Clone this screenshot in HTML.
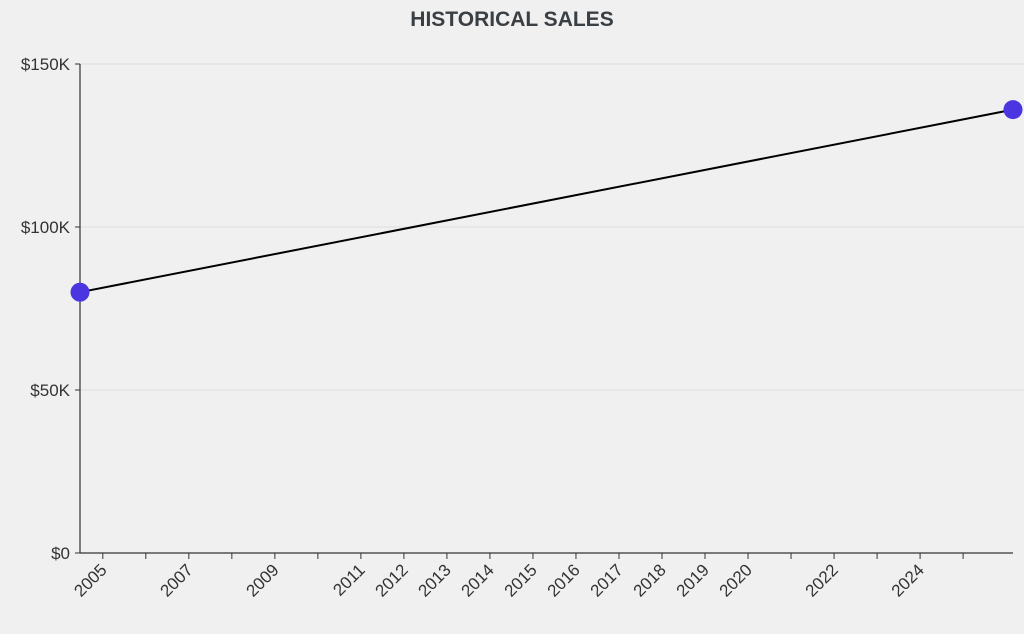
<!DOCTYPE html>
<html><head><meta charset="utf-8"><style>
body{margin:0;background:#f0f0f0;}
svg{display:block;font-family:"Liberation Sans",sans-serif;}
</style></head><body>
<svg id="chart" width="1024" height="634">
<text x="512" y="26" text-anchor="middle" font-size="21" font-weight="bold" fill="#3a3f44">HISTORICAL SALES</text>
<g id="grid"></g><g id="yaxis"></g><g id="xaxis"></g><g id="series"></g>
</svg>
<script>
const dates = [2004.47, 2026.16];
const sales = [80000, 136000];
const yTicks = [0, 50000, 100000, 150000];
const yTickLabels = ["$0", "$50K", "$100K", "$150K"];
const xTickYears = [2005,2006,2007,2008,2009,2010,2011,2012,2013,2014,2015,2016,2017,2018,2019,2020,2021,2022,2023,2024,2025];
const xLabelYears = [2005,2007,2009,2011,2012,2013,2014,2015,2016,2017,2018,2019,2020,2022,2024];

const NS="http://www.w3.org/2000/svg";
const L=80,R=1013,T=64,B=553;
const xMin=Math.min(...dates),xMax=Math.max(...dates);
const x=v=>L+(v-xMin)/(xMax-xMin)*(R-L);
const y=v=>B-v/150000*(B-T);
function mk(tag,attrs,parent){const e=document.createElementNS(NS,tag);for(const k in attrs)e.setAttribute(k,attrs[k]);parent.appendChild(e);return e;}
const grid=document.getElementById('grid'),ya=document.getElementById('yaxis'),xa=document.getElementById('xaxis'),se=document.getElementById('series');
yTicks.forEach((v,i)=>{
  if(v>0){const g=mk('line',{x1:L,x2:1024,y1:y(v),y2:y(v),stroke:'#dedede','stroke-width':1},grid);
  
  }
  mk('line',{x1:L-5,x2:L,y1:y(v),y2:y(v),stroke:'#333'},ya);
  const t=mk('text',{x:L-10,y:y(v)+6,'text-anchor':'end','font-size':17,fill:'#333'},ya);
  t.textContent=yTickLabels[i];
  
  
});
const yl=mk('line',{x1:L,x2:L,y1:T,y2:B,stroke:'#333','stroke-width':1.2},ya);


const xl=mk('line',{x1:L,x2:R,y1:B,y2:B,stroke:'#333','stroke-width':1.2},xa);


xTickYears.forEach(yr=>{
  const px=x(yr);
  mk('line',{x1:px,x2:px,y1:B,y2:B+6,stroke:'#333'},xa);
  if(xLabelYears.includes(yr)){
    const t=mk('text',{x:0,y:0,'text-anchor':'end','font-size':17,fill:'#333',transform:`translate(${px+5},${B+18}) rotate(-45)`},xa);
    t.textContent=yr;
    
    
  }
});
const pl=mk('polyline',{points:dates.map((d,i)=>x(d)+','+y(sales[i])).join(' '),fill:'none',stroke:'#000','stroke-width':2},se);


dates.forEach((d,i)=>{
  const c=mk('circle',{cx:x(d),cy:y(sales[i]),r:9.5,fill:'#4a35e0'},se);
  
  
});
</script>
</body></html>
